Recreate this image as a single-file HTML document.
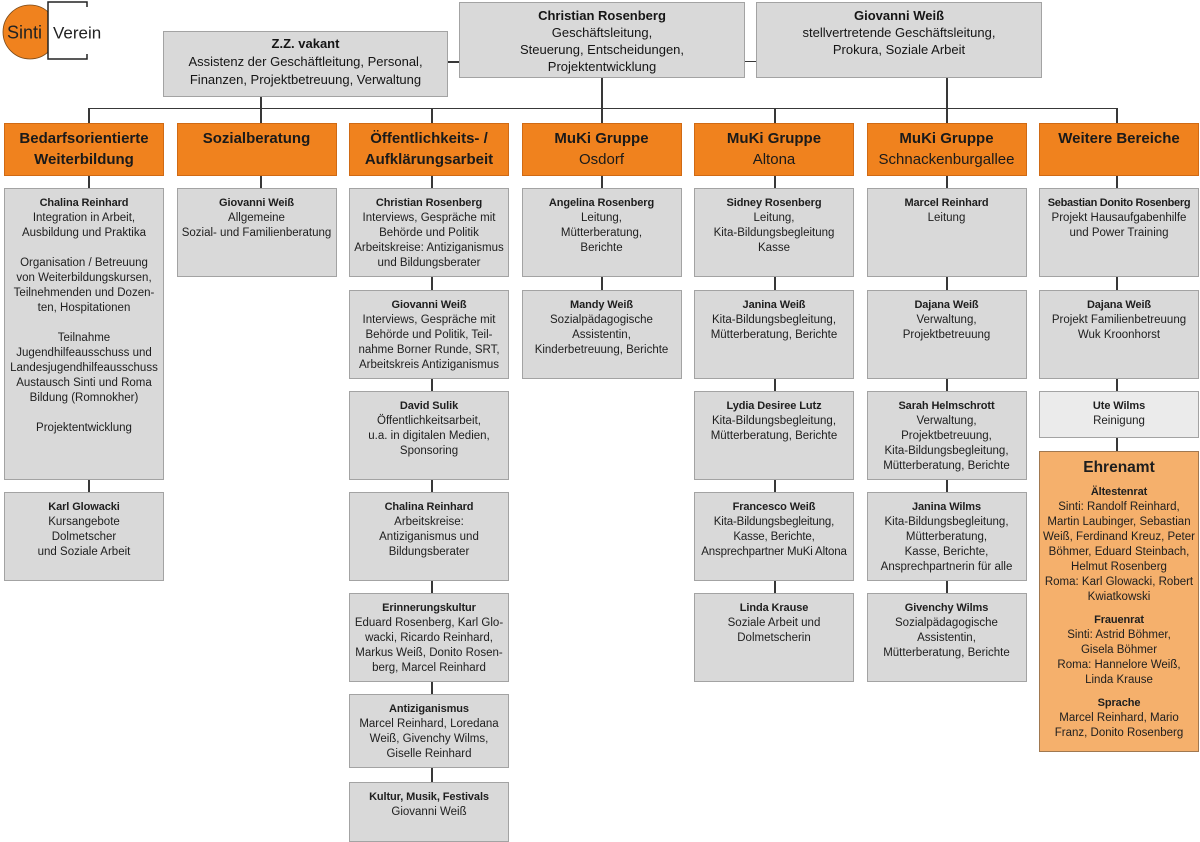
<!DOCTYPE html>
<html><head><meta charset="utf-8">
<style>
html,body{margin:0;padding:0;background:#fff;}
body{width:1200px;height:824px;position:relative;overflow:hidden;font-family:"Liberation Sans",Arial,sans-serif;color:#1e1e1e;}
.l{position:absolute;background:#383838;}
.b{position:absolute;box-sizing:border-box;width:160px;background:#d9d9d9;border:1px solid #a3a3a3;text-align:center;font-size:11.5px;line-height:15px;padding-top:6.5px;white-space:nowrap;color:#1e1e1e;}
.b b{font-size:11px;letter-spacing:-0.1px;}
.h{position:absolute;box-sizing:border-box;width:160px;height:53px;top:123px;background:#f0821e;border:1px solid #d06a14;text-align:center;font-size:15px;line-height:21px;padding-top:4px;white-space:nowrap;color:#1a1a1a;}
.t{position:absolute;box-sizing:border-box;background:#d9d9d9;border:1px solid #a3a3a3;text-align:center;font-size:13px;white-space:nowrap;color:#151515;}
.e{background:#f5b06c;border-color:#a07850;}
.e .tt{font-weight:bold;font-size:15.5px;line-height:20px;margin-bottom:6.5px;}
.e .s{margin-top:8px;}
</style></head><body>

<!-- logo -->
<svg style="position:absolute;left:0;top:0" width="110" height="64" viewBox="0 0 110 64">
<circle cx="30" cy="32" r="27" fill="#f0821e" stroke="#7a4a1a" stroke-width="0.8"/>
<rect x="48" y="2" width="41" height="57" fill="#fff"/>
<polyline points="87,7 87,2 48,2 48,59 87,59 87,54" fill="none" stroke="#222" stroke-width="1.5"/>
<text x="7" y="38.5" font-family="Liberation Sans, Arial, sans-serif" font-size="18" fill="#222">Sinti</text>
<text x="53" y="38.5" font-family="Liberation Sans, Arial, sans-serif" font-size="17" fill="#222">Verein</text>
</svg>

<!-- connectors -->
<div class="l" style="left:88.2px;top:108px;width:1.6px;height:384px"></div>
<div class="l" style="left:260.2px;top:97px;width:1.6px;height:91px"></div>
<div class="l" style="left:431.2px;top:108px;width:1.6px;height:674px"></div>
<div class="l" style="left:601.2px;top:78px;width:1.6px;height:212px"></div>
<div class="l" style="left:774.2px;top:108px;width:1.6px;height:485px"></div>
<div class="l" style="left:946.2px;top:78px;width:1.6px;height:515px"></div>
<div class="l" style="left:1116.2px;top:108px;width:1.6px;height:343px"></div>
<div class="l" style="left:88.2px;top:107.7px;width:1029.6px;height:1.6px"></div>
<div class="l" style="left:448px;top:61px;width:11px;height:1.6px"></div>
<div class="l" style="left:745px;top:60.5px;width:11px;height:1.6px"></div>

<!-- top boxes -->
<div class="t" style="left:163px;top:31px;width:285px;height:66px;line-height:18px;padding-top:2.5px;"><b>Z.Z. vakant</b><br>Assistenz der Geschäftleitung, Personal,<br>Finanzen, Projektbetreuung, Verwaltung</div>
<div class="t" style="left:459px;top:2px;width:286px;height:76px;line-height:17.3px;padding-top:3.5px;"><b>Christian Rosenberg</b><br>Geschäftsleitung,<br>Steuerung, Entscheidungen,<br>Projektentwicklung</div>
<div class="t" style="left:756px;top:2px;width:286px;height:76px;line-height:17.3px;padding-top:3.5px;"><b>Giovanni Weiß</b><br>stellvertretende Geschäftsleitung,<br>Prokura, Soziale Arbeit</div>

<!-- headers -->
<div class="h" style="left:4px;"><b>Bedarfsorientierte<br>Weiterbildung</b></div>
<div class="h" style="left:176.5px;"><b>Sozialberatung</b></div>
<div class="h" style="left:349px;"><b>Öffentlichkeits- /<br>Aufklärungsarbeit</b></div>
<div class="h" style="left:521.5px;"><b>MuKi Gruppe</b><br>Osdorf</div>
<div class="h" style="left:694px;"><b>MuKi Gruppe</b><br>Altona</div>
<div class="h" style="left:866.5px;"><b>MuKi Gruppe</b><br>Schnackenburgallee</div>
<div class="h" style="left:1039px;"><b>Weitere Bereiche</b></div>

<!-- col1 -->
<div class="b" style="left:4px;top:188px;height:292px;"><b>Chalina Reinhard</b><br>Integration in Arbeit,<br>Ausbildung und Praktika<br><br>Organisation / Betreuung<br>von Weiterbildungskursen,<br>Teilnehmenden und Dozen-<br>ten, Hospitationen<br><br>Teilnahme<br>Jugendhilfeausschuss und<br>Landesjugendhilfeausschuss<br>Austausch Sinti und Roma<br>Bildung (Romnokher)<br><br>Projektentwicklung</div>
<div class="b" style="left:4px;top:492px;height:89px;"><b>Karl Glowacki</b><br>Kursangebote<br>Dolmetscher<br>und Soziale Arbeit</div>

<!-- col2 -->
<div class="b" style="left:176.5px;top:188px;height:89px;"><b>Giovanni Weiß</b><br>Allgemeine<br>Sozial- und Familienberatung</div>

<!-- col3 -->
<div class="b" style="left:349px;top:188px;height:89px;"><b>Christian Rosenberg</b><br>Interviews, Gespräche mit<br>Behörde und Politik<br>Arbeitskreise: Antiziganismus<br>und Bildungsberater</div>
<div class="b" style="left:349px;top:290px;height:89px;"><b>Giovanni Weiß</b><br>Interviews, Gespräche mit<br>Behörde und Politik, Teil-<br>nahme Borner Runde, SRT,<br>Arbeitskreis Antiziganismus</div>
<div class="b" style="left:349px;top:391px;height:89px;"><b>David Sulik</b><br>Öffentlichkeitsarbeit,<br>u.a. in digitalen Medien,<br>Sponsoring</div>
<div class="b" style="left:349px;top:492px;height:89px;"><b>Chalina Reinhard</b><br>Arbeitskreise:<br>Antiziganismus und<br>Bildungsberater</div>
<div class="b" style="left:349px;top:593px;height:89px;"><b>Erinnerungskultur</b><br>Eduard Rosenberg, Karl Glo-<br>wacki, Ricardo Reinhard,<br>Markus Weiß, Donito Rosen-<br>berg, Marcel Reinhard</div>
<div class="b" style="left:349px;top:694px;height:74px;"><b>Antiziganismus</b><br>Marcel Reinhard, Loredana<br>Weiß, Givenchy Wilms,<br>Giselle Reinhard</div>
<div class="b" style="left:349px;top:782px;height:60px;"><b>Kultur, Musik, Festivals</b><br>Giovanni Weiß</div>

<!-- col4 -->
<div class="b" style="left:521.5px;top:188px;height:89px;"><b>Angelina Rosenberg</b><br>Leitung,<br>Mütterberatung,<br>Berichte</div>
<div class="b" style="left:521.5px;top:290px;height:89px;"><b>Mandy Weiß</b><br>Sozialpädagogische<br>Assistentin,<br>Kinderbetreuung, Berichte</div>

<!-- col5 -->
<div class="b" style="left:694px;top:188px;height:89px;"><b>Sidney Rosenberg</b><br>Leitung,<br>Kita-Bildungsbegleitung<br>Kasse</div>
<div class="b" style="left:694px;top:290px;height:89px;"><b>Janina Weiß</b><br>Kita-Bildungsbegleitung,<br>Mütterberatung, Berichte</div>
<div class="b" style="left:694px;top:391px;height:89px;"><b>Lydia Desiree Lutz</b><br>Kita-Bildungsbegleitung,<br>Mütterberatung, Berichte</div>
<div class="b" style="left:694px;top:492px;height:89px;letter-spacing:-0.15px;"><b>Francesco Weiß</b><br>Kita-Bildungsbegleitung,<br>Kasse, Berichte,<br>Ansprechpartner MuKi Altona</div>
<div class="b" style="left:694px;top:593px;height:89px;"><b>Linda Krause</b><br>Soziale Arbeit und<br>Dolmetscherin</div>

<!-- col6 -->
<div class="b" style="left:866.5px;top:188px;height:89px;"><b>Marcel Reinhard</b><br>Leitung</div>
<div class="b" style="left:866.5px;top:290px;height:89px;"><b>Dajana Weiß</b><br>Verwaltung,<br>Projektbetreuung</div>
<div class="b" style="left:866.5px;top:391px;height:89px;"><b>Sarah Helmschrott</b><br>Verwaltung,<br>Projektbetreuung,<br>Kita-Bildungsbegleitung,<br>Mütterberatung, Berichte</div>
<div class="b" style="left:866.5px;top:492px;height:89px;"><b>Janina Wilms</b><br>Kita-Bildungsbegleitung,<br>Mütterberatung,<br>Kasse, Berichte,<br>Ansprechpartnerin für alle</div>
<div class="b" style="left:866.5px;top:593px;height:89px;"><b>Givenchy Wilms</b><br>Sozialpädagogische<br>Assistentin,<br>Mütterberatung, Berichte</div>

<!-- col7 -->
<div class="b" style="left:1039px;top:188px;height:89px;"><b style="letter-spacing:-0.3px">Sebastian Donito Rosenberg</b><br>Projekt Hausaufgabenhilfe<br>und Power Training</div>
<div class="b" style="left:1039px;top:290px;height:89px;"><b>Dajana Weiß</b><br>Projekt Familienbetreuung<br>Wuk Kroonhorst</div>
<div class="b" style="left:1039px;top:391px;height:47px;background:#ebebeb;"><b>Ute Wilms</b><br>Reinigung</div>
<div class="b e" style="left:1039px;top:451px;height:301px;padding-top:6px;">
<div class="tt">Ehrenamt</div>
<div><b>Ältestenrat</b><br>Sinti: Randolf Reinhard,<br>Martin Laubinger, Sebastian<br>Weiß, Ferdinand Kreuz, Peter<br>Böhmer, Eduard Steinbach,<br>Helmut Rosenberg<br>Roma: Karl Glowacki, Robert<br>Kwiatkowski</div>
<div class="s"><b>Frauenrat</b><br>Sinti: Astrid Böhmer,<br>Gisela Böhmer<br>Roma: Hannelore Weiß,<br>Linda Krause</div>
<div class="s"><b>Sprache</b><br>Marcel Reinhard, Mario<br>Franz, Donito Rosenberg</div>
</div>

</body></html>
